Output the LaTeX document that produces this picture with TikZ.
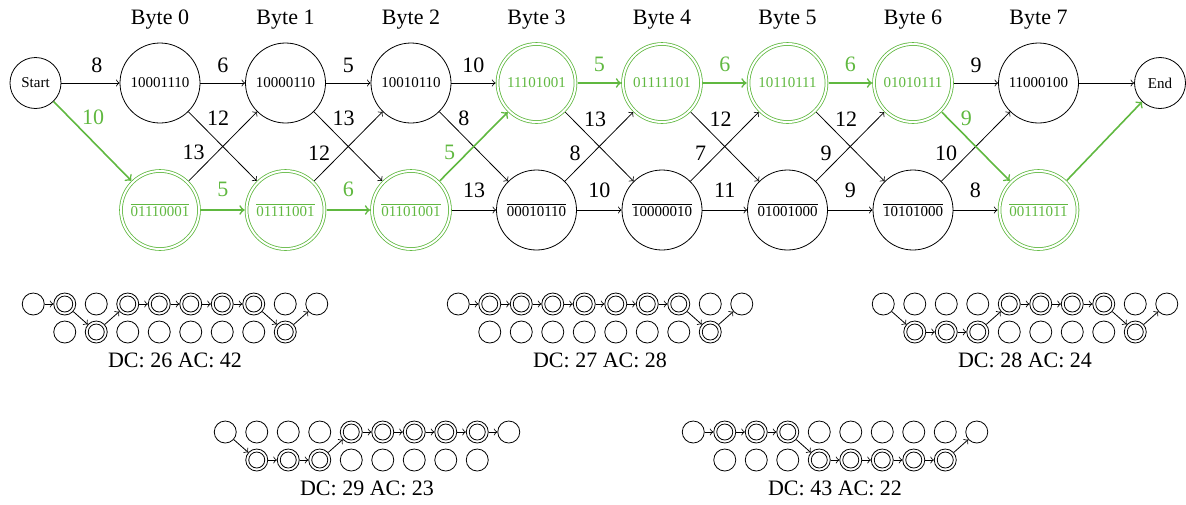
\documentclass[tikz,border=0pt]{standalone}
\usepackage{fontspec}
\setmainfont{Liberation Serif}
\definecolor{vert}{RGB}{96,184,64}
\newcommand{\inv}[1]{$\overline{\mbox{#1}}$}
% petit treillis : nom, centre, ligne haute, noeuds doubles, chemin, legende
\newcommand{\treillis}[6]{%
	\foreach \i in {0,...,7} {
		\node[rond] (#1T\i) at (#2-110.25+31.5*\i,#3) {};
		\node[rond] (#1B\i) at (#2-110.25+31.5*\i,#3+28) {};
	}
	\node[rond] (#1S) at (#2-141.75,#3) {};
	\node[rond] (#1E) at (#2+141.75,#3) {};
	\foreach \n in {#4} \node[rondint] (#1\n-in) at (#1\n) {};
	\foreach \a/\b in {#5} \draw[->] (#1\a) -- (#1\b);
	\node[legende] (#1L) at (#2,#3+56) {#6};
}
\begin{document}
\begin{tikzpicture}[x=0.5pt,y=-0.5pt,
	noeud/.style={circle,draw,minimum size=40pt,inner sep=0pt,font=\fontsize{7.5}{9}\selectfont},
	choix/.style={noeud,draw=vert,text=vert,double,double distance=1pt,minimum size=39pt,outer sep=1pt},
	borne/.style={noeud,minimum size=25.5pt},
	titre/.style={font=\fontsize{11}{13}\selectfont},
	poids/.style={font=\fontsize{11}{13}\selectfont,inner sep=1pt},
	chemin/.style={vert,thick},
	rond/.style={circle,draw,minimum size=11pt,inner sep=0pt},
	rondint/.style={circle,draw,minimum size=8pt,inner sep=0pt},
	legende/.style={font=\fontsize{11}{13}\selectfont}]
	\useasboundingbox (0,0) rectangle (1186,504);
	\foreach \i in {0,...,7} \node[titre] (titre\i) at (160+125.5*\i,20) {Byte \i}; % les colonnes
	\node[borne] (debut) at (35.5,83) {Start};
	\node[borne] (fin) at (1160,83) {End};
	\node[noeud] (h0) at (160,83) {10001110};
	\node[noeud] (h1) at (285.5,83) {10000110};
	\node[noeud] (h2) at (411,83) {10010110};
	\node[choix] (h3) at (536.5,83) {11101001};
	\node[choix] (h4) at (662,83) {01111101};
	\node[choix] (h5) at (787.5,83) {10110111};
	\node[choix] (h6) at (913,83) {01010111};
	\node[noeud] (h7) at (1038.5,83) {11000100};
	\node[choix] (b0) at (160,210) {\inv{01110001}};
	\node[choix] (b1) at (285.5,210) {\inv{01111001}};
	\node[choix] (b2) at (411,210) {\inv{01101001}};
	\node[noeud] (b3) at (536.5,210) {\inv{00010110}};
	\node[noeud] (b4) at (662,210) {\inv{10000010}};
	\node[noeud] (b5) at (787.5,210) {\inv{01001000}};
	\node[noeud] (b6) at (913,210) {\inv{10101000}};
	\node[choix] (b7) at (1038.5,210) {\inv{00111011}};
	% les aretes noires
	\draw[->] (debut) -- node[poids,pos=0.61,above=4pt] {8} (h0);
	\foreach \i/\j/\w in {0/1/6,1/2/5,2/3/10,6/7/9} \draw[->] (h\i) -- node[poids,above=4pt] {\w} (h\j);
	\draw[->] (h7) -- (fin);
	\foreach \i/\j/\w in {2/3/13,3/4/10,4/5/11,5/6/9,6/7/8} \draw[->] (b\i) -- node[poids,above=5pt] {\w} (b\j);
	\foreach \i/\j/\w in {0/1/12,1/2/13,2/3/8,3/4/13,4/5/12,5/6/12} \draw[->] (h\i) -- node[poids,pos=0.24,above right] {\w} (b\j);
	\foreach \i/\j/\w in {0/1/13,1/2/12,3/4/8,4/5/7,5/6/9,6/7/10} \draw[->] (b\i) -- node[poids,pos=0.265,above left] {\w} (h\j);
	% le chemin choisi
	\draw[->,chemin] (debut) -- node[poids,pos=0.33,above right] {10} (b0);
	\foreach \i/\j/\w in {3/4/5,4/5/6,5/6/6} \draw[->,chemin] (h\i) -- node[poids,above=4pt] {\w} (h\j);
	\foreach \i/\j/\w in {0/1/5,1/2/6} \draw[->,chemin] (b\i) -- node[poids,above=5pt] {\w} (b\j);
	\draw[->,chemin] (b2) -- node[poids,pos=0.265,above left] {5} (h3);
	\draw[->,chemin] (h6) -- node[poids,pos=0.24,above right] {9} (b7);
	\draw[->,chemin] (b7) -- (fin);
	% les petits treillis
	\treillis{p}{175}{304}{T0,B1,T2,T3,T4,T5,T6,B7}{S/T0,T0/B1,B1/T2,T2/T3,T3/T4,T4/T5,T5/T6,T6/B7,B7/E}{DC: 26 AC: 42}
	\treillis{q}{600}{304}{T0,T1,T2,T3,T4,T5,T6,B7}{S/T0,T0/T1,T1/T2,T2/T3,T3/T4,T4/T5,T5/T6,T6/B7,B7/E}{DC: 27 AC: 28}
	\treillis{r}{1025}{304}{B0,B1,B2,T3,T4,T5,T6,B7}{S/B0,B0/B1,B1/B2,B2/T3,T3/T4,T4/T5,T5/T6,T6/B7,B7/E}{DC: 28 AC: 24}
	\treillis{s}{367}{432}{B0,B1,B2,T3,T4,T5,T6,T7}{S/B0,B0/B1,B1/B2,B2/T3,T3/T4,T4/T5,T5/T6,T6/T7,T7/E}{DC: 29 AC: 23}
	\treillis{t}{835}{432}{T0,T1,T2,B3,B4,B5,B6,B7}{S/T0,T0/T1,T1/T2,T2/B3,B3/B4,B4/B5,B5/B6,B6/B7,B7/E}{DC: 43 AC: 22}
\end{tikzpicture}
\end{document}
